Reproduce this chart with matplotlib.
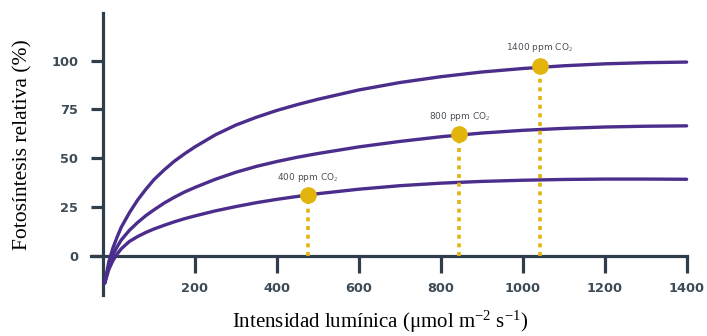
import matplotlib.pyplot as plt

plt.rcParams['mathtext.fontset'] = 'custom'
plt.rcParams['mathtext.rm'] = 'Liberation Serif'
plt.rcParams['mathtext.it'] = 'Liberation Serif:italic'

# light intensity (umol m-2 s-1) and relative photosynthesis (%) for each CO2 level
light = [-20, -10, 0, 10, 20, 40, 60, 80, 100, 125, 150, 175, 200, 250, 300,
         350, 400, 450, 500, 600, 700, 800, 900, 1000, 1100, 1200, 1300, 1400]
ps_400 = [-14, -7, -2.5, 0.8, 3.5, 7.3, 9.8, 11.9, 13.7, 15.6, 17.4, 19, 20.4,
          23, 25.2, 27.2, 28.9, 30.4, 31.8, 34.1, 35.9, 37.2, 38.1, 38.7,
          39.1, 39.3, 39.3, 39.2]
ps_800 = [-14, -5, 0.5, 4.5, 8, 13, 17, 20.5, 23.5, 27, 30, 32.7, 35, 39.2,
          42.8, 45.8, 48.3, 50.5, 52.4, 55.8, 58.6, 61, 62.9, 64.3, 65.3, 66,
          66.4, 66.6]
ps_1400 = [-14, -3, 4, 9.5, 14.5, 22, 28.5, 34, 39, 44, 48.5, 52.3, 55.8, 62,
           67, 71, 74.5, 77.5, 80.2, 85, 88.8, 91.8, 94.2, 96, 97.4, 98.4, 99,
           99.3]

# highlighted points
pt_labels = ['400 ppm CO$_2$', '800 ppm CO$_2$', '1400 ppm CO$_2$']
pt_x = [476, 845, 1042]
pt_y = [31, 62.3, 97.5]

purple = '#4b2d8c'
gold = '#e2b40c'
dark = '#2f3e4a'

fig = plt.figure(figsize=(7.07, 3.36), dpi=100)
ax = fig.add_axes([0.125, 0.1113, 0.852, 0.8705])
ax.set_xlim(-60, 1410)
ax.set_ylim(-22, 128)

for ys in (ps_400, ps_800, ps_1400):
    ax.plot(light, ys, color=purple, lw=2.4, solid_capstyle='round',
            solid_joinstyle='round', zorder=3)

ax.vlines(pt_x, 0, pt_y, colors=gold, lw=2.6, linestyles=(0, (1.1, 1.3)), zorder=4)
ax.plot(pt_x, pt_y, 'o', color=gold, ms=11, zorder=5)
for lab, x, y in zip(pt_labels, pt_x, pt_y):
    ax.annotate(lab, (x, y), xytext=(0, 13), textcoords='offset points',
                ha='center', va='center', fontsize=6.5, color='#4a4f55')

# axes drawn as offset spines
for s in ('top', 'right'):
    ax.spines[s].set_visible(False)
ax.spines['left'].set_position(('data', -23.7))
ax.spines['left'].set_bounds(-20, 124.5)
ax.spines['bottom'].set_position(('data', 0))
ax.spines['bottom'].set_bounds(-54, 1400)
for s in ('left', 'bottom'):
    ax.spines[s].set_color(dark)
    ax.spines[s].set_linewidth(2.3)

ax.set_xticks([200, 400, 600, 800, 1000, 1200, 1400])
ax.set_yticks([0, 25, 50, 75, 100])
ax.tick_params(axis='x', length=12, width=2.3, color=dark, pad=7,
               labelsize=9.3, labelcolor='#3d4b57')
ax.tick_params(axis='y', length=9, width=2.3, color=dark, pad=9,
               labelsize=9.3, labelcolor='#3d4b57')
for t in ax.get_xticklabels() + ax.get_yticklabels():
    t.set_fontweight('bold')

fig.text(0.537, 0.042, r'Intensidad lumínica (μmol m$^{\mathrm{-2}}$ s$^{\mathrm{-1}}$)',
         ha='center', va='center', family='Liberation Serif', fontsize=15)
fig.text(0.033, 0.571, 'Fotosíntesis relativa (%)', rotation=90,
         ha='center', va='center', family='Liberation Serif', fontsize=15.5)

fig.savefig('out.png', dpi=100)
